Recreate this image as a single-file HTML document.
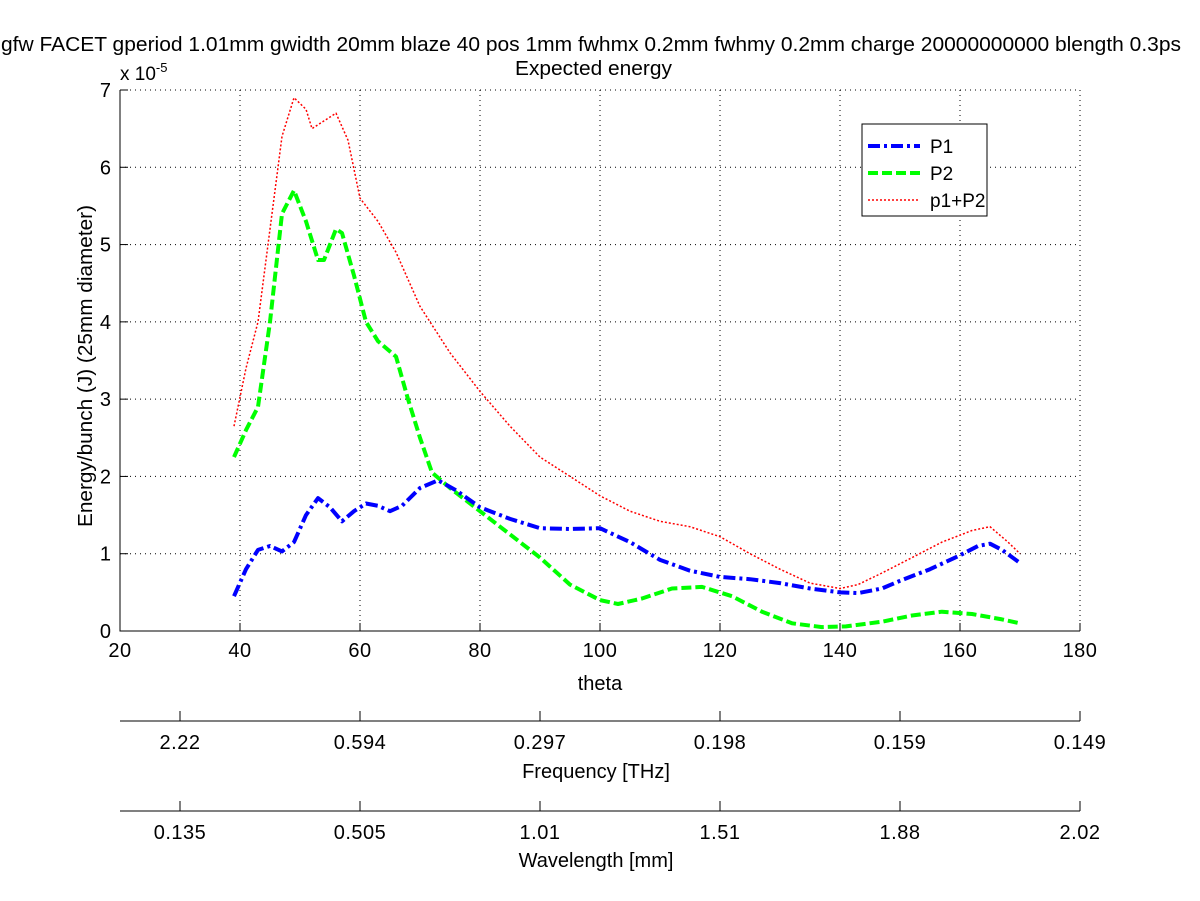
<!DOCTYPE html>
<html><head><meta charset="utf-8"><style>body{margin:0;background:#fff}svg{display:block;font-family:"Liberation Sans",sans-serif}</style></head>
<body>
<svg id="chart" width="1200" height="901" xmlns="http://www.w3.org/2000/svg">
<rect width="1200" height="901" fill="#fff"/>
<g id="grid"></g>
<g id="series"></g>
<g id="axes"></g>
<text x="1" y="51" font-size="20" textLength="1180" lengthAdjust="spacingAndGlyphs">gfw FACET gperiod 1.01mm gwidth 20mm blaze 40 pos 1mm fwhmx 0.2mm fwhmy 0.2mm charge 20000000000 blength 0.3ps</text>
<text x="515" y="75" font-size="20" textLength="157" lengthAdjust="spacingAndGlyphs">Expected energy</text>
<text x="120" y="80" font-size="19">x 10<tspan dy="-8" font-size="13">-5</tspan></text>
<text transform="translate(92,366) rotate(-90)" font-size="20" text-anchor="middle" textLength="322" lengthAdjust="spacingAndGlyphs">Energy/bunch (J) (25mm diameter)</text>
<text x="600" y="690" font-size="20" text-anchor="middle">theta</text>
<text x="596" y="778" font-size="20" text-anchor="middle">Frequency [THz]</text>
<text x="596" y="867" font-size="20" text-anchor="middle">Wavelength [mm]</text>
<g>
<rect x="862" y="124" width="125" height="92" fill="#fff" stroke="#000"/>
<line x1="868" y1="146" x2="920" y2="146" stroke="#00f" stroke-width="4" stroke-dasharray="12,4,3,4"/>
<text x="930" y="153" font-size="19">P1</text>
<line x1="868" y1="173" x2="920" y2="173" stroke="#0f0" stroke-width="4" stroke-dasharray="10,4"/>
<text x="930" y="180" font-size="19">P2</text>
<line x1="868" y1="200" x2="920" y2="200" stroke="#f00" stroke-width="1.5" stroke-dasharray="2,2"/>
<text x="930" y="207" font-size="19">p1+P2</text>
</g>
</svg>
<script>
const xTicks=[20,40,60,80,100,120,140,160,180];
const yTicks=[0,1,2,3,4,5,6,7];
const freqLabels=["2.22","0.594","0.297","0.198","0.159","0.149"];
const waveLabels=["0.135","0.505","1.01","1.51","1.88","2.02"];
const p1Theta=[39,41,43,45,47,49,51,53,55,57,59,61,63,65,67,70,73,76,80,85,90,95,100,105,110,115,120,125,130,135,140,143,147,150,155,160,163,165,167,170];
const p1Vals=[0.45,0.8,1.05,1.1,1.03,1.15,1.5,1.72,1.6,1.42,1.55,1.65,1.62,1.55,1.62,1.85,1.95,1.82,1.6,1.45,1.33,1.32,1.33,1.15,0.92,0.78,0.7,0.67,0.62,0.55,0.5,0.49,0.55,0.65,0.8,0.98,1.1,1.13,1.05,0.88];
const p2Theta=[39,41,43,45,47,49,51,53,54,56,57,59,61,63,66,68,70,72,75,80,85,90,95,100,103,107,112,117,122,127,132,137,141,147,152,157,162,167,170];
const p2Vals=[2.25,2.6,2.9,4.0,5.4,5.7,5.3,4.8,4.8,5.2,5.15,4.6,4.0,3.75,3.55,3.0,2.5,2.05,1.85,1.55,1.25,0.95,0.6,0.4,0.35,0.42,0.55,0.57,0.45,0.25,0.1,0.05,0.06,0.12,0.2,0.25,0.22,0.15,0.1];
const sumTheta=[39,41,43,45,47,49,51,52,54,56,58,60,63,66,70,75,80,85,90,95,100,105,110,115,120,125,130,135,140,143,147,152,157,162,165,168,170];
const sumVals=[2.65,3.4,4.0,5.2,6.4,6.9,6.75,6.5,6.6,6.7,6.35,5.6,5.3,4.9,4.2,3.6,3.1,2.65,2.25,2.0,1.75,1.55,1.42,1.35,1.22,1.0,0.8,0.62,0.55,0.6,0.75,0.95,1.15,1.3,1.35,1.15,1.0];
const X0=120,X1=1080,Y0=631,Y1=90;
const xs=v=>X0+(v-20)/160*(X1-X0);
const ys=v=>Y0-v/7*(Y0-Y1);
const NS="http://www.w3.org/2000/svg";
function mk(tag,parent,attrs){const e=document.createElementNS(NS,tag);for(const k in attrs)e.setAttribute(k,attrs[k]);parent.appendChild(e);return e;}
const grid=document.getElementById('grid'),axes=document.getElementById('axes'),ser=document.getElementById('series');
xTicks.forEach(t=>{
  if(t>20&&t<180){const g=mk('line',grid,{x1:xs(t),x2:xs(t),y1:Y1,y2:Y0,stroke:'#000','stroke-dasharray':'1,4','stroke-width':1});
  
  }
  const tk=mk('line',axes,{x1:xs(t),x2:xs(t),y1:Y0,y2:Y0-8,stroke:'#000'});
  
  
  const tt=mk('text',axes,{x:xs(t),y:Y0+26,'font-size':20,'text-anchor':'middle','letter-spacing':'0.5'});tt.textContent=t;
  
  
});
yTicks.forEach(t=>{
  if(t>0&&t<7){const g=mk('line',grid,{x1:X0,x2:X1,y1:ys(t),y2:ys(t),stroke:'#000','stroke-dasharray':'1,4','stroke-width':1});
  
  }
  const tk=mk('line',axes,{x1:X0,x2:X0+8,y1:ys(t),y2:ys(t),stroke:'#000'});
  
  
  const tt=mk('text',axes,{x:X0-9,y:ys(t)+7,'font-size':20,'text-anchor':'end'});tt.textContent=t;
  
  
});
const grid2=mk('line',grid,{x1:X0,x2:X1,y1:Y1,y2:Y1,stroke:'#000','stroke-dasharray':'1,4'});


const g3=mk('line',grid,{x1:X1,x2:X1,y1:Y1,y2:Y0,stroke:'#000','stroke-dasharray':'1,4'});


const ax=mk('path',axes,{d:`M${X0},${Y1}V${Y0}H${X1}`,fill:'none',stroke:'#000'});


function secAxis(yy,labels,name){
  const l=mk('line',axes,{x1:X0,x2:X1,y1:yy,y2:yy,stroke:'#000'});
  
  
  const step=(X1-X0-60)/(labels.length-1);
  labels.forEach((s,i)=>{const x=X0+60+i*step;
    const tk=mk('line',axes,{x1:x,x2:x,y1:yy,y2:yy-10,stroke:'#000'});
    
    
    const t=mk('text',axes,{x:x,y:yy+28,'font-size':20,'text-anchor':'middle','letter-spacing':'0.5'});t.textContent=s;
    
    });
}
secAxis(721,freqLabels,'frequency');
secAxis(811,waveLabels,'wavelength');
function line(th,vs,attrs,name){const d=th.map((t,i)=>(i?'L':'M')+xs(t).toFixed(1)+','+ys(vs[i]).toFixed(1)).join('');
  const p=mk('path',ser,Object.assign({d:d,fill:'none','stroke-linejoin':'round'},attrs));
  
  }
line(sumTheta,sumVals,{stroke:'#f00','stroke-width':1.5,'stroke-dasharray':'2,2'},'series-p1-plus-p2');
line(p2Theta,p2Vals,{stroke:'#0f0','stroke-width':4,'stroke-dasharray':'10,4'},'series-p2');
line(p1Theta,p1Vals,{stroke:'#00f','stroke-width':4,'stroke-dasharray':'12,4,3,4'},'series-p1');
</script>
</body></html>
